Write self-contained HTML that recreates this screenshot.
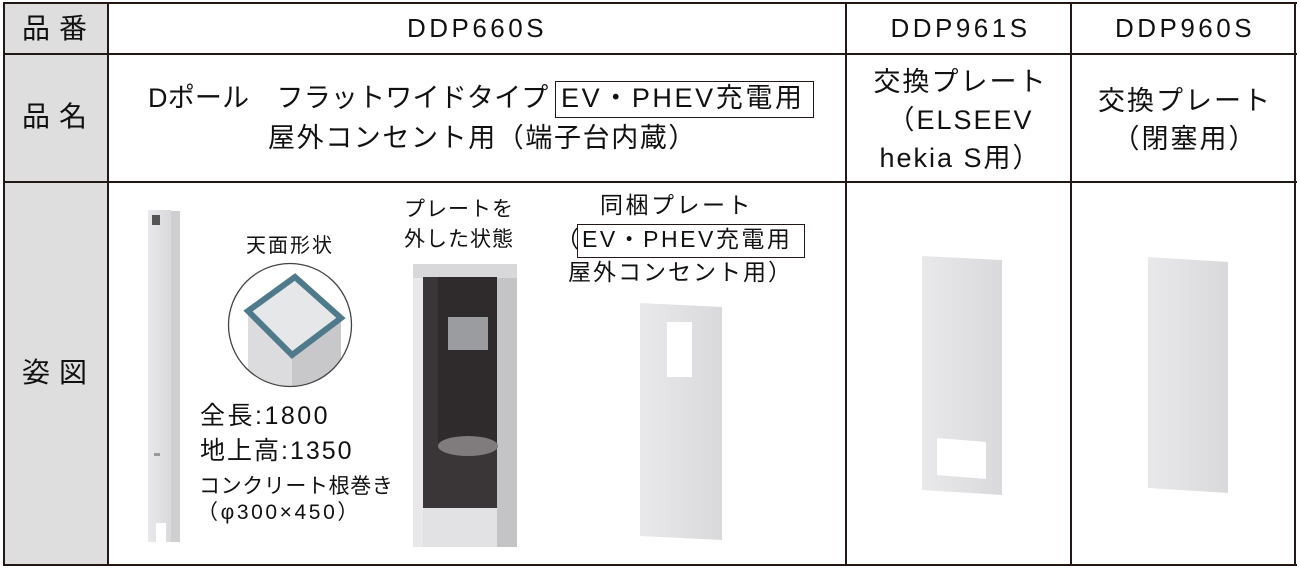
<!DOCTYPE html>
<html><head><meta charset="utf-8"><style>
*{margin:0;padding:0;box-sizing:border-box}
body{width:1300px;height:568px;background:#fff;position:relative;overflow:hidden;font-family:"Liberation Sans","Noto Sans CJK JP",sans-serif;color:#111}
.a{position:absolute}
.h{background:#231815}
.t{position:absolute;white-space:nowrap;line-height:1}
.c{text-align:center}
</style></head><body>
<div class="a" style="left:4px;top:3px;width:104px;height:562px;background:#dedede"></div>
<div class="a h" style="left:3px;top:2px;width:1294px;height:2px"></div>
<div class="a h" style="left:3px;top:53px;width:1294px;height:2px"></div>
<div class="a h" style="left:3px;top:181px;width:1294px;height:2px"></div>
<div class="a h" style="left:3px;top:564px;width:1294px;height:2px"></div>
<div class="a h" style="left:3px;top:2px;width:2px;height:564px"></div>
<div class="a h" style="left:107px;top:2px;width:2px;height:564px"></div>
<div class="a h" style="left:845px;top:2px;width:2px;height:564px"></div>
<div class="a h" style="left:1070px;top:2px;width:2px;height:564px"></div>
<div class="a h" style="left:1294px;top:2px;width:2px;height:564px"></div>
<div class="t" style="left:22px;top:15px;font-size:28px;letter-spacing:9px">品番</div>
<div class="t" style="left:22px;top:103px;font-size:28px;letter-spacing:9px">品名</div>
<div class="t" style="left:22px;top:359px;font-size:28px;letter-spacing:9px">姿図</div>
<div class="t c" style="left:109px;width:736px;top:15px;font-size:26px;letter-spacing:3.5px">DDP660S</div>
<div class="t c" style="left:849px;width:223px;top:15px;font-size:26px;letter-spacing:3.5px">DDP961S</div>
<div class="t c" style="left:1074px;width:222px;top:15px;font-size:26px;letter-spacing:3.5px">DDP960S</div>
<div class="t" style="left:148px;top:85px;font-size:27px;letter-spacing:0.2px">Dポール　フラットワイドタイプ</div>
<div class="a" style="left:555px;top:81px;width:259px;height:37px;border:1.5px solid #231815"></div>
<div class="t" style="left:561px;top:85px;font-size:27px;letter-spacing:2.6px">EV・PHEV充電用</div>
<div class="t" style="left:268px;top:125px;font-size:27px;letter-spacing:1.6px">屋外コンセント用（端子台内蔵）</div>
<div class="t c" style="left:849px;width:223px;top:63px;font-size:27px;line-height:38px;letter-spacing:2px">交換プレート<br>（ELSEEV<br>hekia S用）</div>
<div class="t c" style="left:1074px;width:222px;top:82px;font-size:27px;line-height:38px;letter-spacing:2px">交換プレート<br>（閉塞用）</div>
<div class="t" style="left:246px;top:236px;font-size:20px;letter-spacing:2px">天面形状</div>
<div class="t" style="left:404px;top:195px;font-size:21px;line-height:30px;letter-spacing:1px">プレートを<br>外した状態</div>
<div class="t" style="left:600px;top:194px;font-size:23px;letter-spacing:2.5px">同梱プレート</div>
<div class="t" style="left:556px;top:228px;font-size:23px">（</div>
<div class="a" style="left:577px;top:224px;width:228px;height:34px;border:1.5px solid #231815"></div>
<div class="t" style="left:582px;top:228px;font-size:23px;letter-spacing:2.5px">EV・PHEV充電用</div>
<div class="t" style="left:568px;top:261px;font-size:23px;letter-spacing:2px">屋外コンセント用）</div>
<div class="t" style="left:200px;top:404px;font-size:25px;letter-spacing:2.5px">全長:1800</div>
<div class="t" style="left:200px;top:439px;font-size:25px;letter-spacing:2px">地上高:1350</div>
<div class="t" style="left:199px;top:476px;font-size:21px;letter-spacing:0.6px">コンクリート根巻き</div>
<div class="t" style="left:197px;top:502px;font-size:21px;letter-spacing:2.6px">（φ300×450）</div>
<svg class="a" style="left:0;top:0" width="1300" height="568">
<defs>
<linearGradient id="g1" x1="0" x2="1"><stop offset="0" stop-color="#e9e9eb"/><stop offset="1" stop-color="#d9d9dc"/></linearGradient>
<clipPath id="cc"><circle cx="290" cy="325" r="61"/></clipPath></defs>
<rect x="148" y="210" width="23" height="332" fill="url(#g1)"/>
<rect x="171" y="211" width="9" height="331" fill="#cfcfd2"/>
<rect x="152" y="215" width="8" height="10" fill="#555"/>
<rect x="156" y="523" width="10" height="19" fill="#fff"/>
<rect x="154" y="453" width="6" height="3" fill="#999"/>
<g clip-path="url(#cc)">
<polygon points="248,311 292,355 292,400 248,400" fill="#dcdcde"/>
<polygon points="292,355 341,318 341,400 292,400" fill="#c8c8cb"/>
<polygon points="295,277 341,318 292,355 248,311" fill="#e6e7e9" stroke="#4e7a8c" stroke-width="6"/>
</g>
<circle cx="290" cy="325" r="61.5" fill="none" stroke="#444" stroke-width="1.3"/>
<rect x="413" y="264" width="104" height="283" fill="#d8d8da"/>
<rect x="497" y="278" width="20" height="269" fill="#c4c4c7"/>
<rect x="413" y="278" width="10" height="269" fill="#e8e8ea"/>
<rect x="423" y="277" width="74" height="231" fill="#3a3536"/>
<rect x="438" y="277" width="59" height="170" fill="#2f2a2b"/>
<ellipse cx="468" cy="446" rx="30" ry="10" fill="#807c7d"/>
<rect x="448" y="317" width="40" height="33" fill="#9a9c9f"/>
<rect x="423" y="508" width="74" height="39" fill="#e2e2e4"/>
<polygon points="640,303 722,307 722,540 640,536" fill="url(#g1)"/>
<rect x="667" y="322" width="25" height="55" fill="#fff"/>
<polygon points="922,256 1002,260 1002,495 922,490" fill="url(#g1)"/>
<polygon points="937,438 986,442 986,479 937,475" fill="#fff"/>
<polygon points="1148,257 1228,262 1228,493 1148,488" fill="url(#g1)"/>
</svg>
</body></html>
